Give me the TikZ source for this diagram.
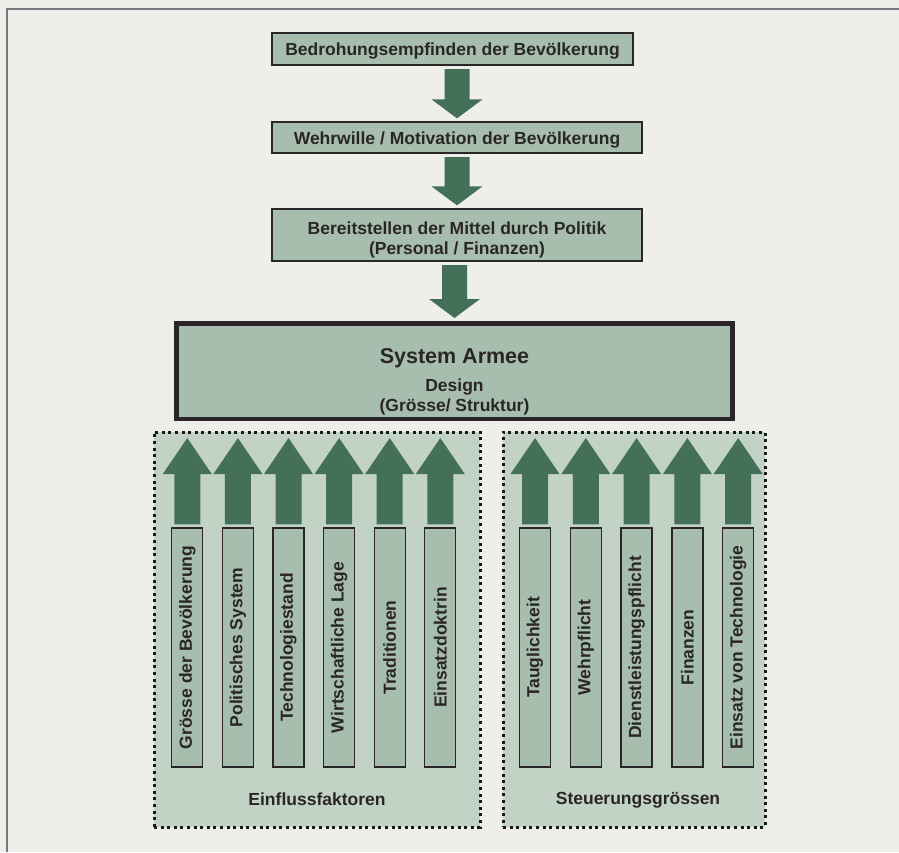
\documentclass[tikz,border=0pt]{standalone}
\usepackage{fontspec}
\setmainfont{Liberation Sans}
\usepackage{graphicx}
\usetikzlibrary{calc}
\definecolor{paper}{HTML}{EEEEEA}
\definecolor{boxgreen}{HTML}{A7BDAE}
\definecolor{panelgreen}{HTML}{C2D3C6}
\definecolor{armygreen}{HTML}{44705A}
\definecolor{inkdark}{HTML}{2A2628}
\definecolor{framegray}{HTML}{77777F}
% fat arrow down from box #1 to box #2
\newcommand\fatdown[2]{\fill[armygreen] let \p1=(#1.south), \p2=(#2.north) in
  (\x2-12.5pt,\y1-3.5pt) -- (\x2-12.5pt,\y2+22pt) -- (\x2-25.5pt,\y2+22pt) -- (\x2,\y2+3pt)
  -- (\x2+25.5pt,\y2+22pt) -- (\x2+12.5pt,\y2+22pt) -- (\x2+12.5pt,\y1-3.5pt) -- cycle;}
% fat arrow up from factor box #1 towards the system box
\newcommand\fatup[1]{\fill[armygreen] let \p1=(#1.north), \p2=(armee.south) in
  (\x1-13pt,\y1+3pt) -- (\x1-13pt,\y2-53pt) -- (\x1-24.5pt,\y2-53pt) -- (\x1,\y2-17pt)
  -- (\x1+24.5pt,\y2-53pt) -- (\x1+13pt,\y2-53pt) -- (\x1+13pt,\y1+3pt) -- cycle;}
\begin{document}
\begin{tikzpicture}[x=1pt,y=-1pt,
  lbl/.style={text=inkdark,align=center,font=\bfseries\fontsize{17.5}{20}\selectfont},
  boxed/.style={lbl,draw=inkdark,line width=1.3pt,fill=boxgreen,inner sep=0pt},
  topbox/.style={boxed,text height=13pt,text depth=0pt},
  factor/.style={boxed,minimum width=31pt,minimum height=239pt},
  bigbox/.style={draw=inkdark,line width=4.5pt,fill=boxgreen,inner sep=0pt},
  panel/.style={draw=black!90,line width=3pt,dash pattern=on 3pt off 3.6pt,fill=panelgreen,inner sep=0pt}]
\useasboundingbox (0,0) rectangle (899,852);
\fill[paper] (0,0) rectangle (899,852);
\draw[framegray,line width=2pt] (7,852)--(7,9)--(899,9);

\node[panel,minimum width=326pt,minimum height=395pt] (einfluss) at (317,629.5) {};
\node[panel,minimum width=262pt,minimum height=395pt] (steuerung) at (634,629.5) {};
\node[lbl] (einflusstxt) at (317,799) {Einflussfaktoren};
\node[lbl] (steuerungtxt) at (638,800) {Steuerungsgrössen};

\node[topbox,minimum width=361pt,minimum height=32pt] (bedrohung) at (452.5,49) {Bedrohungsempfinden der Bevölkerung};
\node[topbox,minimum width=370pt,minimum height=31pt] (wehrwille) at (457,137.5) {Wehrwille / Motivation der Bevölkerung};
\node[topbox,text height=39pt,minimum width=370pt,minimum height=52pt] (mittel) at (457,235) {Bereitstellen der Mittel durch Politik\\(Personal / Finanzen)};
\node[bigbox,minimum width=556pt,minimum height=95.5pt] (armee) at (454.5,371) {};
\node[lbl] (armeetxt) at (454.5,381.5) {{\fontsize{21.5}{24}\selectfont System Armee}\\[8pt]Design\\(Grösse/ Struktur)};

\fatdown{bedrohung}{wehrwille}
\fatdown{wehrwille}{mittel}
\fatdown{mittel}{armee}

\node[factor] (f1) at (187.3,647.5) {\rotatebox{90}{Grösse der Bevölkerung}};
\node[factor] (f2) at (237.9,647.5) {\rotatebox{90}{Politisches System}};
\node[factor] (f3) at (288.5,647.5) {\rotatebox{90}{Technologiestand}};
\node[factor] (f4) at (339.1,647.5) {\rotatebox{90}{Wirtschaftliche Lage}};
\node[factor] (f5) at (389.7,647.5) {\rotatebox{90}{Traditionen}};
\node[factor] (f6) at (440.3,647.5) {\rotatebox{90}{Einsatzdoktrin}};
\node[factor] (s1) at (535,647.5) {\rotatebox{90}{Tauglichkeit}};
\node[factor] (s2) at (585.8,647.5) {\rotatebox{90}{Wehrpflicht}};
\node[factor] (s3) at (636.6,647.5) {\rotatebox{90}{Dienstleistungspflicht}};
\node[factor] (s4) at (687.4,647.5) {\rotatebox{90}{Finanzen}};
\node[factor] (s5) at (738.2,647.5) {\rotatebox{90}{Einsatz von Technologie}};

\foreach \f in {f1,f2,f3,f4,f5,f6,s1,s2,s3,s4,s5} {\fatup{\f}}
\end{tikzpicture}
\end{document}
